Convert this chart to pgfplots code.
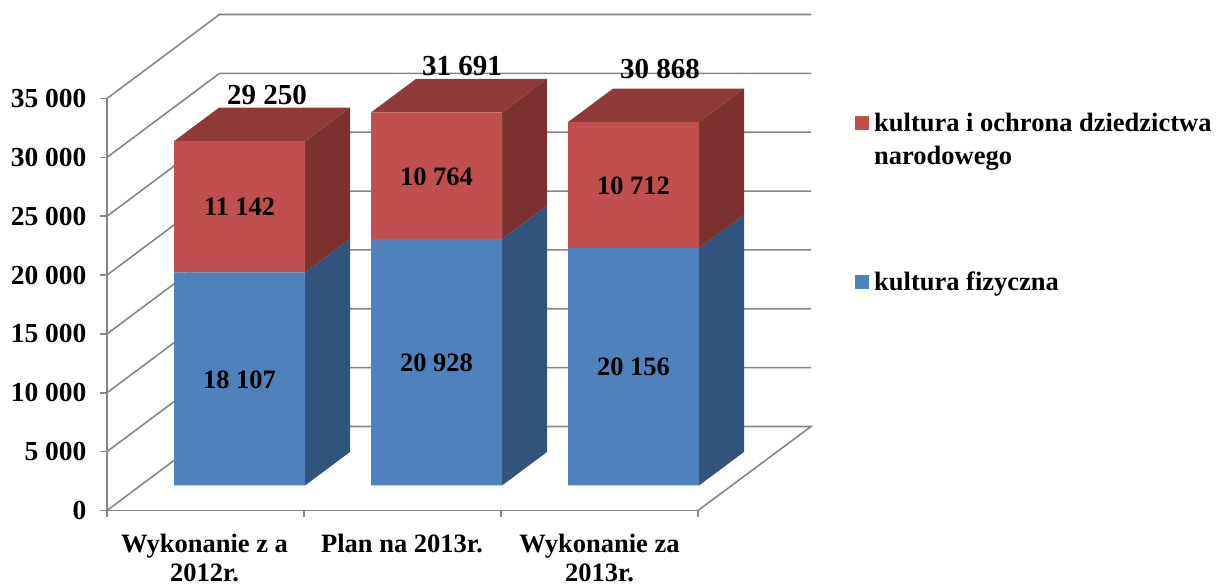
\documentclass[border=0pt]{standalone}
\usepackage{pgfplots}
\usepackage{fontspec}
\setmainfont{Liberation Serif}
\pgfplotsset{compat=1.18}
\definecolor{cblue}{HTML}{4F81BD}
\definecolor{cred}{HTML}{C0504D}
\definecolor{sblue}{HTML}{31547C}
\definecolor{sred}{HTML}{7B3230}
\definecolor{tred}{HTML}{8F3A38}
\definecolor{cgrid}{HTML}{868686}
\newcommand{\lab}{\bfseries\fontsize{26.5}{32}\selectfont}
\newcommand{\xl}{\bfseries\fontsize{26.5}{29.5}\selectfont}
\newcommand{\yl}{\bfseries\fontsize{27.5}{32}\selectfont}
\newcommand{\leg}{\bfseries\fontsize{26.5}{33}\selectfont}
\newcommand{\tot}{\bfseries\fontsize{29}{31}\selectfont}
\pgfplotsset{
  legA/.style={legend image code/.code={\path[##1] (0pt,-7pt) rectangle (14pt,7pt); \path (17pt,0pt) circle (0pt);}},
  legB/.style={legend image code/.code={\path[##1] (0pt,9.5pt) rectangle (14pt,23.5pt); \path (17pt,0pt) circle (0pt);}},
}
\begin{document}
\begin{tikzpicture}[x=1pt,y=1pt]
\path[use as bounding box] (0,0) rectangle (1216,586);
\begin{axis}[
  at={(107pt,75.5pt)}, anchor=south west,
  scale only axis, width=591pt, height=412pt,
  xmin=107, xmax=698, ymin=0, ymax=35000,
  clip=false,
  axis x line=bottom, axis y line=left,
  axis line style={-, cgrid, line width=1.6pt},
  xtick={204.5,402,599.5},
  xticklabels={Wykonanie z a\\2012r.,Plan na 2013r.,Wykonanie za\\2013r.},
  minor xtick={107,304,501,698},
  ytick={0,5000,10000,15000,20000,25000,30000,35000},
  scaled y ticks=false,
  tick align=outside,
  major tick length=7pt, minor tick length=7pt,
  major x tick style={draw=none},
  minor x tick style={cgrid, line width=1.6pt},
  major y tick style={cgrid, line width=1.6pt},
  x tick label style={font=\xl, align=center, inner ysep=0pt, yshift=-16pt},
  y tick label style={font=\yl, xshift=-10pt},
  /pgf/number format/.cd, assume math mode=true, 1000 sep={\ },
]
% back wall lines and floor
\addplot[cgrid, line width=1.6pt] coordinates {(107,0)(219.5,7136)(811,7136)(698,0)};
\addplot[cgrid, line width=1.6pt] coordinates {(107,5000)(219.5,12136)(811,12136)};
\addplot[cgrid, line width=1.6pt] coordinates {(107,10000)(219.5,17136)(811,17136)};
\addplot[cgrid, line width=1.6pt] coordinates {(107,15000)(219.5,22136)(811,22136)};
\addplot[cgrid, line width=1.6pt] coordinates {(107,20000)(219.5,27136)(811,27136)};
\addplot[cgrid, line width=1.6pt] coordinates {(107,25000)(219.5,32136)(811,32136)};
\addplot[cgrid, line width=1.6pt] coordinates {(107,30000)(219.5,37136)(811,37136)};
\addplot[cgrid, line width=1.6pt] coordinates {(107,35000)(219.5,42136)(811,42136)};
% side faces, blue
\addplot[fill=sblue, draw=none] coordinates {(305,2124)(350,4970)(350,23077)(305,20231)} --cycle;
\addplot[fill=sblue, draw=none] coordinates {(502,2124)(547,4970)(547,25898)(502,23052)} --cycle;
\addplot[fill=sblue, draw=none] coordinates {(699,2124)(744,4970)(744,25126)(699,22280)} --cycle;
% side faces, red
\addplot[fill=sred, draw=none] coordinates {(305,20231)(350,23077)(350,34219)(305,31373)} --cycle;
\addplot[fill=sred, draw=none] coordinates {(502,23052)(547,25898)(547,36662)(502,33816)} --cycle;
\addplot[fill=sred, draw=none] coordinates {(699,22280)(744,25126)(744,35838)(699,32992)} --cycle;
% top faces
\addplot[fill=tred, draw=none] coordinates {(174,31373)(305,31373)(350,34219)(219,34219)} --cycle;
\addplot[fill=tred, draw=none] coordinates {(371,33816)(502,33816)(547,36662)(416,36662)} --cycle;
\addplot[fill=tred, draw=none] coordinates {(568,32992)(699,32992)(744,35838)(613,35838)} --cycle;
\end{axis}
\begin{axis}[
  at={(107pt,75.5pt)}, anchor=south west,
  scale only axis, width=591pt, height=412pt,
  xmin=107, xmax=698, ymin=-2124, ymax=32876,
  clip=false, hide axis,
  ybar stacked, bar width=131pt, bar shift=0pt,
  reverse legend,
  legend cell align=left,
  legend style={at={(axis cs:852,31990)}, anchor=north west, draw=none, fill=none,
    font=\leg, row sep=102pt, cells={align=left}},
]
\addplot[fill=cblue, draw=none, legA]
  coordinates {(239.5,18107)(436.5,20928)(633.5,20156)};
\addlegendentry{kultura fizyczna}
\addplot[fill=cred, draw=none, legB]
  coordinates {(239.5,11142)(436.5,10764)(633.5,10712)};
\addlegendentry{kultura i ochrona dziedzictwa\\narodowego}
\end{axis}
\begin{axis}[
  at={(107pt,75.5pt)}, anchor=south west,
  scale only axis, width=591pt, height=412pt,
  xmin=107, xmax=698, ymin=-2124, ymax=32876,
  clip=false, hide axis,
]
\node[font=\lab] at (axis cs:239.5,8971) {18 107};
\node[font=\lab] at (axis cs:239.5,23670) {11 142};
\node[font=\lab] at (axis cs:436.5,10380) {20 928};
\node[font=\lab] at (axis cs:436.5,26210) {10 764};
\node[font=\lab] at (axis cs:633.5,10040) {20 156};
\node[font=\lab] at (axis cs:633.5,25450) {10 712};
\node[font=\tot] at (axis cs:267,33170) {29 250};
\node[font=\tot] at (axis cs:462,35600) {31 691};
\node[font=\tot] at (axis cs:660,35400) {30 868};
\end{axis}
\end{tikzpicture}
\end{document}
